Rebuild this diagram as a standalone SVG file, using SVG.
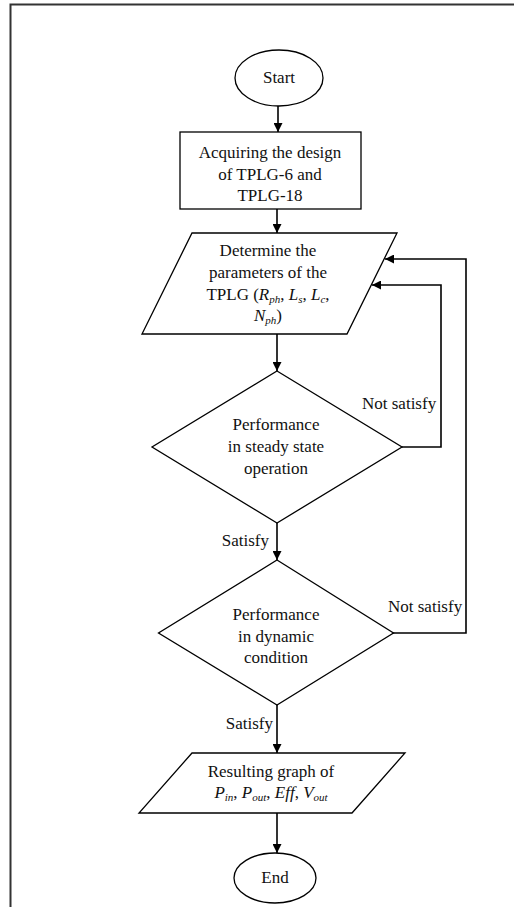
<svg xmlns="http://www.w3.org/2000/svg" width="514" height="907" viewBox="0 0 514 907">
<style>
.shape{fill:#fff;stroke:#000;stroke-width:1.3}
.conn{fill:none;stroke:#000;stroke-width:1.6}
.t{font-family:"Liberation Serif","Times New Roman",serif;font-size:17px;fill:#111;text-anchor:middle}
.lbl{font-family:"Liberation Serif","Times New Roman",serif;font-size:17px;fill:#111}
.i{font-style:italic}
.s{font-size:11px;font-style:italic}
</style>
<defs>
<marker id="ah" viewBox="0 0 10 10" refX="10" refY="5" markerWidth="9" markerHeight="9" markerUnits="userSpaceOnUse" orient="auto">
<path d="M0,0 L10,5 L0,10 Z" fill="#000"/>
</marker>
</defs>
<rect width="514" height="907" fill="#fff"/>
<path d="M10.5,907 V4.5 H514" fill="none" stroke="#333" stroke-width="2"/>
<g id="connectors">
<line class="conn" x1="278" y1="106" x2="278" y2="132" marker-end="url(#ah)"/>
<line class="conn" x1="277" y1="209" x2="277" y2="233" marker-end="url(#ah)"/>
<line class="conn" x1="277" y1="334" x2="277" y2="371" marker-end="url(#ah)"/>
<line class="conn" x1="277" y1="523" x2="277" y2="560" marker-end="url(#ah)"/>
<line class="conn" x1="277" y1="705" x2="277" y2="753" marker-end="url(#ah)"/>
<line class="conn" x1="277" y1="813" x2="277" y2="853" marker-end="url(#ah)"/>
<polyline class="conn" points="402,447 441,447 441,285 372,285" marker-end="url(#ah)"/>
<polyline class="conn" points="393,633 466,633 466,259 385,259" marker-end="url(#ah)"/>
<text class="lbl" x="362" y="409">Not satisfy</text>
<text class="lbl" x="388" y="612">Not satisfy</text>
<text class="lbl" x="269" y="546" text-anchor="end">Satisfy</text>
<text class="lbl" x="273" y="729" text-anchor="end">Satisfy</text>
</g>
<g id="start">
<ellipse class="shape" cx="279" cy="78" rx="44" ry="28"/>
<text class="t" x="279" y="83">Start</text>
</g>
<g id="acquire">
<rect class="shape" x="180" y="132" width="181" height="77"/>
<text class="t" x="270" y="158">Acquiring the design</text>
<text class="t" x="270" y="180">of TPLG-6 and</text>
<text class="t" x="270" y="201">TPLG-18</text>
</g>
<g id="determine">
<polygon class="shape" points="192,233 397,233 347,334 142,334"/>
<text class="t" x="268" y="256">Determine the</text>
<text class="t" x="268" y="278">parameters of the</text>
<text class="t" x="268" y="300">TPLG (<tspan class="i">R</tspan><tspan class="s" dy="3">ph</tspan><tspan dy="-3">, </tspan><tspan class="i">L</tspan><tspan class="s" dy="3">s</tspan><tspan dy="-3">, </tspan><tspan class="i">L</tspan><tspan class="s" dy="3">c</tspan><tspan dy="-3">,</tspan></text>
<text class="t" x="268" y="321"><tspan class="i">N</tspan><tspan class="s" dy="3">ph</tspan><tspan dy="-3">)</tspan></text>
</g>
<g id="steady">
<polygon class="shape" points="277,371 402,447 277,523 152,447"/>
<text class="t" x="276" y="430">Performance</text>
<text class="t" x="276" y="452">in steady state</text>
<text class="t" x="276" y="474">operation</text>
</g>
<g id="dynamic">
<polygon class="shape" points="277,560 393.5,633 277,705 158.5,633"/>
<text class="t" x="276" y="620">Performance</text>
<text class="t" x="276" y="642">in dynamic</text>
<text class="t" x="276" y="663">condition</text>
</g>
<g id="result">
<polygon class="shape" points="192,753 405,753 352,813 139,813"/>
<text class="t" x="271" y="777">Resulting graph of</text>
<text class="t" x="271" y="798"><tspan class="i">P</tspan><tspan class="s" dy="3">in</tspan><tspan dy="-3">, </tspan><tspan class="i">P</tspan><tspan class="s" dy="3">out</tspan><tspan dy="-3">, </tspan><tspan class="i">Eff</tspan><tspan>, </tspan><tspan class="i">V</tspan><tspan class="s" dy="3">out</tspan></text>
</g>
<g id="end">
<ellipse class="shape" cx="275" cy="878" rx="41" ry="25"/>
<text class="t" x="275" y="883">End</text>
</g>
</svg>
